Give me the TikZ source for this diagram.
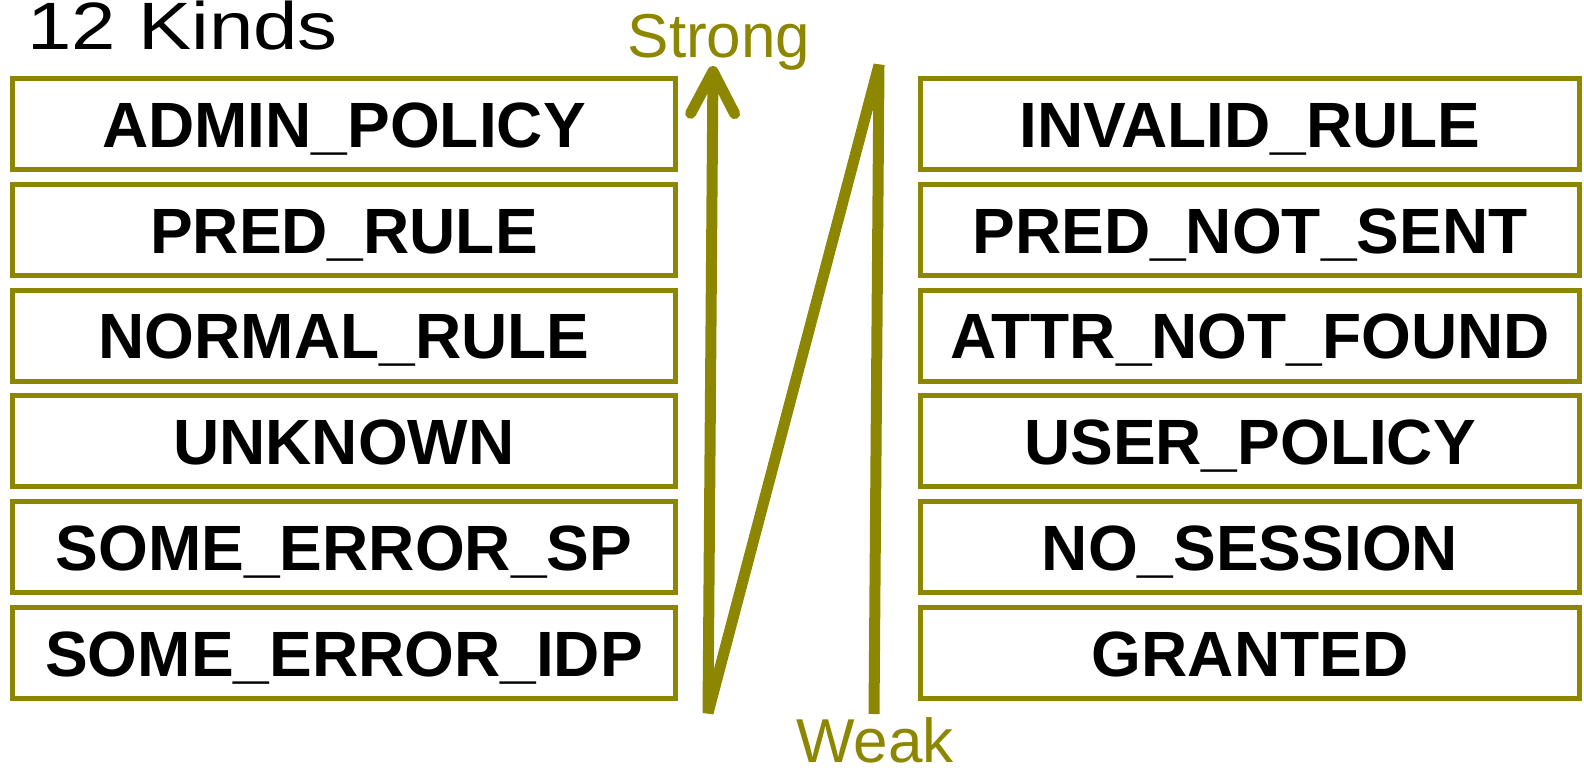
\documentclass[tikz,border=0pt]{standalone}
\usepackage{fontspec}
\setmainfont{Liberation Sans}
\usetikzlibrary{positioning,arrows.meta}
\tikzset{
  kind/.style={draw=olive,line width=2.5pt,minimum width=331.5pt,minimum height=45.5pt,
    inner sep=0pt,font=\fontsize{32}{32}\selectfont\bfseries,text height=23.3pt,text depth=0pt},
  rank/.style={text=olive,font=\fontsize{31}{31}\selectfont,anchor=base,inner sep=0pt}
}
\begin{document}
\begin{tikzpicture}[x=0.5pt,y=-0.5pt,node distance=52.9pt]
  \useasboundingbox (0,0) rectangle (1584,770);
  % left column
  \node[kind] (l1) at (344,124) {ADMIN\_POLICY};
  \node[kind,below of=l1] (l2) {PRED\_RULE};
  \node[kind,below of=l2] (l3) {NORMAL\_RULE};
  \node[kind,below of=l3] (l4) {UNKNOWN};
  \node[kind,below of=l4] (l5) {SOME\_ERROR\_SP};
  \node[kind,below of=l5] (l6) {SOME\_ERROR\_IDP};
  % right column
  \node[kind,minimum width=329.5pt] (r1) at (1250,124) {INVALID\_RULE};
  \node[kind,minimum width=329.5pt,below of=r1] (r2) {PRED\_NOT\_SENT};
  \node[kind,minimum width=329.5pt,below of=r2] (r3) {ATTR\_NOT\_FOUND};
  \node[kind,minimum width=329.5pt,below of=r3] (r4) {USER\_POLICY};
  \node[kind,minimum width=329.5pt,below of=r4] (r5) {NO\_SESSION};
  \node[kind,minimum width=329.5pt,below of=r5] (r6) {GRANTED};
  % labels
  \node[anchor=base west,inner sep=0pt,font=\fontsize{33.5}{33.5}\selectfont] (title) at (27,50) {\scalebox{1.19}[1]{12 Kinds}};
  \node[rank] (strong) at (719,58) {Strong};
  \node[rank] (weak) at (875,762) {Weak};
  % zigzag from weak to strong
  \coordinate (z1) at (874,714);
  \coordinate (z2) at (879,65);
  \coordinate (z3) at (708,713);
  \coordinate (z4) at (713,66);
  \draw[olive,line width=5.5pt,line join=bevel,-{Straight Barb[length=21pt,width=22pt,round]}]
    (z1) -- (z2) -- (z3) -- (z4);
\end{tikzpicture}
\end{document}
